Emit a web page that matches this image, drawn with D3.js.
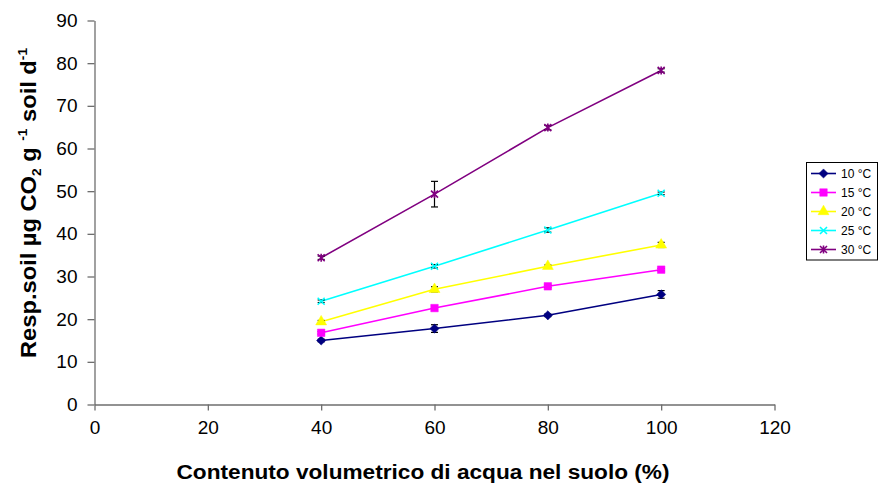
<!DOCTYPE html>
<html>
<head>
<meta charset="utf-8">
<script src="https://cdn.jsdelivr.net/npm/d3@7"></script>
<style>
  html, body { margin: 0; padding: 0; background: #fff; }
  svg { display: block; font-family: Arial, "Liberation Sans", sans-serif; }
</style>
</head>
<body>
<div id="chart"></div>
<script>
// water content (%)
const waterContent = [40, 60, 80, 100];

const seriesNames = ["10 °C", "15 °C", "20 °C", "25 °C", "30 °C"];
const seriesColors = ["#000080", "#ff00ff", "#ffff00", "#00ffff", "#800080"];
const seriesMarkers = ["diamond", "square", "triangle", "cross", "star"];

// soil respiration, µg CO2 g-1 soil d-1
const resp10 = [15.0, 17.8, 20.9, 25.8];
const resp15 = [16.8, 22.6, 27.7, 31.6];
const resp20 = [19.4, 27.0, 32.4, 37.4];
const resp25 = [24.2, 32.4, 40.9, 49.5];
const resp30 = [34.4, 49.3, 64.9, 78.3];

// error (half-width of error bars)
const err10 = [0.3, 0.9, 0.3, 0.9];
const err15 = [0.3, 0.3, 0.3, 0.3];
const err20 = [0.3, 0.6, 0.3, 0.6];
const err25 = [0.3, 0.4, 0.5, 0.3];
const err30 = [0.4, 3.0, 0.5, 0.4];

const xTicks = [0, 20, 40, 60, 80, 100, 120];
const yTicks = [0, 10, 20, 30, 40, 50, 60, 70, 80, 90];

const allResp = [resp10, resp15, resp20, resp25, resp30];
const allErr = [err10, err15, err20, err25, err30];

const width = 879, height = 486;

const svg = d3.select("#chart").append("svg")
  .attr("width", width)
  .attr("height", height);

const x = d3.scaleLinear().domain([0, 120]).range([94.5, 774.5]);
const y = d3.scaleLinear().domain([0, 90]).range([404.5, 20.5]);

// axes
const xAxis = svg.append("g")
  .attr("transform", "translate(0,404.5)")
  .call(d3.axisBottom(x).tickValues(xTicks).tickSize(6).tickSizeOuter(0).tickPadding(10));
const yAxis = svg.append("g")
  .attr("transform", "translate(94.5,0)")
  .call(d3.axisLeft(y).tickValues(yTicks).tickSize(7).tickSizeOuter(0).tickPadding(10));

[xAxis, yAxis].forEach(a => {
  a.select(".domain").attr("stroke", "#6e6e6e").attr("stroke-width", 1.3);
  a.selectAll(".tick line").attr("stroke", "#6e6e6e").attr("stroke-width", 1.3);
  a.selectAll(".tick text")
    .attr("fill", "#000")
    .style("font-family", "Arial, 'Liberation Sans', sans-serif")
    .style("font-size", "19px");
});

// axis titles
svg.append("text")
  .attr("x", 423).attr("y", 479)
  .attr("text-anchor", "middle")
  .attr("textLength", 493)
  .attr("lengthAdjust", "spacingAndGlyphs")
  .style("font-size", "20px").style("font-weight", "bold")
  .text("Contenuto volumetrico di acqua nel suolo (%)");

const yTitle = svg.append("text")
  .attr("transform", "translate(35.5,358) rotate(-90)")
  .attr("textLength", 310)
  .attr("lengthAdjust", "spacingAndGlyphs")
  .style("font-size", "22.5px").style("font-weight", "bold");
yTitle.append("tspan").text("Resp.soil µg CO");
yTitle.append("tspan").attr("dy", 5).style("font-size", "13px").text("2");
yTitle.append("tspan").attr("dy", -5).text("  g ");
yTitle.append("tspan").attr("dy", -9).style("font-size", "13px").text("-1");
yTitle.append("tspan").attr("dy", 9).text("  soil d");
yTitle.append("tspan").attr("dy", -9).style("font-size", "13px").text("-1");

// marker shapes
function markerPath(type) {
  switch (type) {
    case "diamond": return "M0,-4.6L4.6,0L0,4.6L-4.6,0Z";
    case "square": return d3.symbol(d3.symbolSquare, 56)();
    case "triangle": return d3.symbol(d3.symbolTriangle, 52)();
    case "cross": return "M-3.5,-3.5L3.5,3.5M-3.5,3.5L3.5,-3.5";
    case "star": return "M-3.5,-3.5L3.5,3.5M-3.5,3.5L3.5,-3.5M0,-4L0,4";
  }
}

function drawMarker(g, type, color) {
  const stroked = type === "cross" || type === "star";
  g.append("path")
    .attr("d", markerPath(type))
    .attr("fill", stroked ? "none" : color)
    .attr("stroke", color)
    .attr("stroke-width", stroked ? 1.6 : 0.5);
}

const line = d3.line()
  .x((d, i) => x(waterContent[i]))
  .y(d => y(d));

allResp.forEach((vals, s) => {
  const g = svg.append("g");
  g.append("path")
    .attr("d", line(vals))
    .attr("fill", "none")
    .attr("stroke", seriesColors[s])
    .attr("stroke-width", 1.6);

  // error bars
  vals.forEach((v, i) => {
    const cx = x(waterContent[i]);
    const e = allErr[s][i];
    const eb = g.append("g").attr("stroke", "#000").attr("stroke-width", 1.2);
    eb.append("line").attr("x1", cx).attr("x2", cx).attr("y1", y(v - e)).attr("y2", y(v + e));
    eb.append("line").attr("x1", cx - 3.5).attr("x2", cx + 3.5).attr("y1", y(v - e)).attr("y2", y(v - e));
    eb.append("line").attr("x1", cx - 3.5).attr("x2", cx + 3.5).attr("y1", y(v + e)).attr("y2", y(v + e));
  });

  vals.forEach((v, i) => {
    const m = g.append("g").attr("transform", `translate(${x(waterContent[i])},${y(v)})`);
    drawMarker(m, seriesMarkers[s], seriesColors[s]);
  });
});

// legend
const legend = svg.append("g");
legend.append("rect")
  .attr("x", 806.5).attr("y", 162.5)
  .attr("width", 71).attr("height", 97.5)
  .attr("fill", "#fff").attr("stroke", "#000").attr("stroke-width", 1);

seriesNames.forEach((name, s) => {
  const ly = 173.5 + s * 19;
  const row = legend.append("g");
  row.append("line")
    .attr("x1", 811).attr("x2", 836).attr("y1", ly).attr("y2", ly)
    .attr("stroke", seriesColors[s]).attr("stroke-width", 1.6);
  const m = row.append("g").attr("transform", `translate(823.5,${ly})`);
  drawMarker(m, seriesMarkers[s], seriesColors[s]);
  row.append("text")
    .attr("x", 841).attr("y", ly + 4.5)
    .style("font-size", "12px")
    .text(name);
});
</script>
</body>
</html>
